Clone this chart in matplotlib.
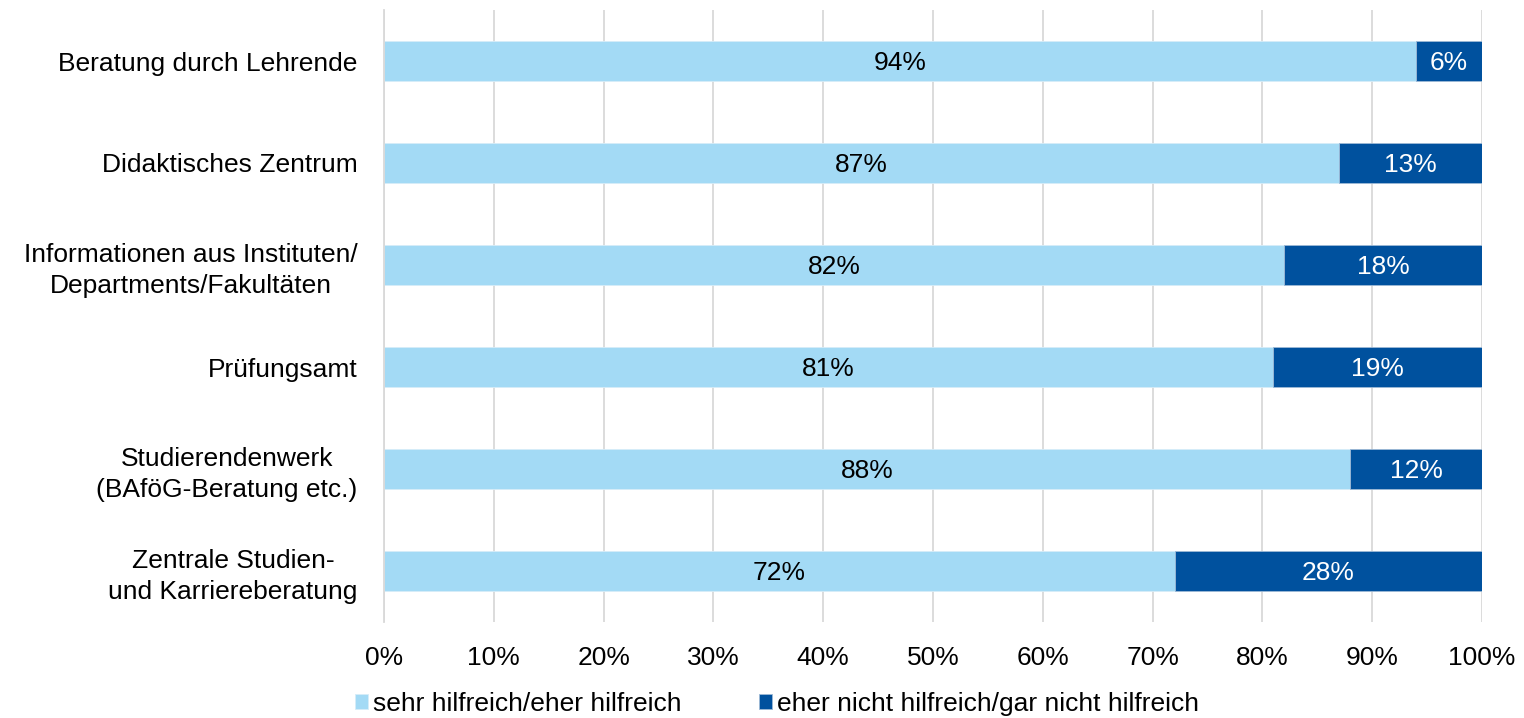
import numpy as np
import matplotlib.pyplot as plt

plt.rcParams['font.family'] = ['Liberation Sans', 'DejaVu Sans']

categories = ['Beratung durch Lehrende',
              'Didaktisches Zentrum',
              'Informationen aus Instituten/\nDepartments/Fakultäten',
              'Prüfungsamt',
              'Studierendenwerk\n(BAföG-Beratung etc.)',
              'Zentrale Studien-\nund Karriereberatung']
helpful = [94, 87, 82, 81, 88, 72]
not_helpful = [6, 13, 18, 19, 12, 28]
series_names = ['sehr hilfreich/eher hilfreich',
                'eher nicht hilfreich/gar nicht hilfreich']
xticks = list(range(0, 101, 10))

light = '#A3DAF5'
dark = '#00519E'
fs = 19

fig = plt.figure(figsize=(15.24, 7.18), dpi=100)
ax = fig.add_axes([384 / 1524, 1 - 622 / 718, 1098 / 1524, 612 / 718])

y = np.arange(len(categories))
h = 0.395
b1 = ax.barh(y, helpful, h, color=light, edgecolor='#D6ECF8', linewidth=0.6, zorder=2)
b2 = ax.barh(y, not_helpful, h, left=helpful, color=dark, edgecolor='#9DB9D6',
             linewidth=0.6, zorder=2)

for i in range(len(categories)):
    ax.text(helpful[i] / 2, y[i] + 0.02, '%d%%' % helpful[i], ha='center', va='center',
            fontsize=fs, color='black', zorder=3)
    ax.text(helpful[i] + not_helpful[i] / 2, y[i] + 0.02, '%d%%' % not_helpful[i],
            ha='center', va='center', fontsize=fs, color='white', zorder=3)

ax.set_xlim(0, 100)
ax.set_ylim(len(categories) - 0.5, -0.5)
ax.set_xticks(xticks)
ax.set_xticklabels(['%d%%' % v for v in xticks], fontsize=fs)
ax.set_yticks(y)
ax.set_yticklabels(categories, fontsize=fs, linespacing=1.35)
for t in ax.get_yticklabels():
    t.set_multialignment('center')
ax.tick_params(axis='both', length=0)
ax.tick_params(axis='x', pad=17)
ax.tick_params(axis='y', pad=19)

ax.grid(axis='x', color='#D9D9D9', linewidth=1.3, zorder=0)
for s in ['top', 'right', 'bottom']:
    ax.spines[s].set_visible(False)
ax.spines['left'].set_color('#D9D9D9')
ax.spines['left'].set_linewidth(1.3)

ax.legend([b1, b2], series_names, ncol=2, frameon=False, fontsize=fs,
          loc='center', bbox_to_anchor=(0.5 - 156 / 1098, -82 / 612),
          handlelength=0.5, handleheight=0.5, handletextpad=0.2,
          columnspacing=2.9, borderaxespad=0)

fig.savefig('out.png', dpi=100)
